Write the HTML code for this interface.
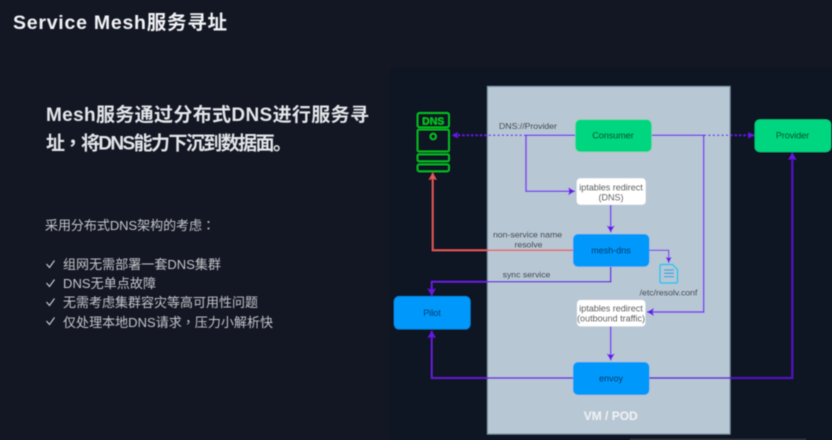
<!DOCTYPE html>
<html><head><meta charset="utf-8"><style>
html,body{margin:0;padding:0;background:#131724;width:832px;height:440px;overflow:hidden}
svg{position:absolute;left:0;top:0;display:block}
text{font-family:"Liberation Sans","Noto Sans CJK SC",sans-serif}
.tc{font-family:"Noto Sans CJK TC",sans-serif}
</style></head><body>
<svg width="832" height="440" viewBox="0 0 832 440" xmlns="http://www.w3.org/2000/svg">
<defs>
<filter id="b" x="-5%" y="-5%" width="110%" height="110%"><feGaussianBlur stdDeviation="0.4"/></filter>
<marker id="ap" markerUnits="userSpaceOnUse" markerWidth="10" markerHeight="10" refX="7" refY="4" orient="auto"><path d="M0 0L7 4L0 8L1.5 4Z" fill="#6a12ea"/></marker>
<marker id="aps" markerUnits="userSpaceOnUse" markerWidth="8" markerHeight="8" refX="6" refY="3" orient="auto"><path d="M0 0L6 3L0 6L1 3Z" fill="#6a12ea"/></marker>
<marker id="ar" markerUnits="userSpaceOnUse" markerWidth="10" markerHeight="10" refX="7" refY="4" orient="auto"><path d="M0 0L7 4L0 8L1.5 4Z" fill="#e45b5b"/></marker>
</defs>
<rect width="832" height="440" fill="#131724"/>
<g filter="url(#b)">
<rect x="390" y="68" width="442" height="372" fill="#0f1422"/>
<rect x="487.5" y="86.5" width="242.5" height="347.5" fill="#b8c7d4" stroke="#71889c" stroke-width="1"/>

<!-- connectors -->
<g fill="none" stroke-width="1.5">
<path d="M526 135.3H452" stroke="#6a12ea" stroke-dasharray="2 2.4" marker-end="url(#aps)"/>
<path d="M704 135.3H754" stroke="#6a12ea" stroke-dasharray="2 2.4" marker-end="url(#aps)"/>
<path d="M575 135.3H526V191.3H575" stroke="#7a36f0" marker-end="url(#ap)"/>
<path d="M652 135.3H703.7V312H647" stroke="#7a36f0" marker-end="url(#ap)"/>
<path d="M610.7 205V232.5" stroke="#7a36f0" marker-end="url(#ap)"/>
<path d="M573 250.3H432.7V173" stroke="#e45b5b" marker-end="url(#ar)"/>
<path d="M649 250.3H668.7V263" stroke="#7a36f0" stroke-width="1.2" marker-end="url(#aps)"/>
<path d="M610.7 267V281.7H431.7V295.5" stroke="#6a1fe0" marker-end="url(#ap)"/>
<path d="M610.7 326V360.5" stroke="#7a36f0" marker-end="url(#ap)"/>
<path d="M573 378H431.7V331" stroke="#6a1fe0" marker-end="url(#ap)"/>
<path d="M649.5 378H792.3V153" stroke="#5f10d8" marker-end="url(#ap)"/>
</g>

<!-- nodes -->
<rect x="575.3" y="119.5" width="76.4" height="32.5" rx="5" fill="#00d67f"/>
<rect x="754.7" y="119.5" width="76.4" height="32.5" rx="5" fill="#00d67f"/>
<rect x="573" y="234" width="76.4" height="32.8" rx="5" fill="#0099fb"/>
<rect x="573" y="362" width="76.4" height="33" rx="5" fill="#0099fb"/>
<rect x="394" y="296.3" width="76.4" height="33" rx="5" fill="#0099fb"/>
<rect x="576.7" y="178.3" width="69" height="26.4" rx="3.5" fill="#ffffff"/>
<rect x="577" y="300" width="68.4" height="26.4" rx="3.5" fill="#ffffff"/>

<!-- DNS server icon -->
<g fill="none" stroke="#00d21e" stroke-width="1.4">
<rect x="417.5" y="113" width="31.5" height="14.3" rx="2"/>
<rect x="417.5" y="129.5" width="31.5" height="22" rx="1.5"/>
<rect x="417.5" y="154.3" width="31.5" height="7" rx="1.5"/>
<rect x="417.5" y="164.3" width="31.5" height="7" rx="2"/>
<circle cx="433.2" cy="136.5" r="2.8"/>
</g>
<text x="433.2" y="124.5" font-size="10.5" font-weight="bold" fill="#00d21e" text-anchor="middle">DNS</text>

<!-- doc icon -->
<path d="M661.5 264.5H672.5L677.5 269.5V281.5Q677.5 283 676 283H661.5Q660 283 660 281.5V266Q660 264.5 661.5 264.5Z" fill="none" stroke="#14c3f0" stroke-width="1.5"/>
<path d="M664 270H674M664 273.3H674M664 276.6H674" stroke="#14a8e0" stroke-width="1.3" fill="none"/>

<!-- labels -->
<g font-size="9" fill="#111418" text-anchor="middle">
<text x="613" y="138.7" fill="#00221a">Consumer</text>
<text x="792.5" y="138.7" fill="#00221a">Provider</text>
<text x="611" y="253.7" fill="#001a3c">mesh-dns</text>
<text x="611" y="381.7" fill="#001a3c">envoy</text>
<text x="432" y="316" fill="#001a3c">Pilot</text>
<text x="611" y="190.5">iptables redirect</text>
<text x="611" y="200.5">(DNS)</text>
<text x="611" y="311.5">iptables redirect</text>
<text x="611" y="321.5">(outbound traffic)</text>
<text x="528" y="129" font-size="8.7">DNS://Provider</text>
<text x="527.5" y="237.5" font-size="8.7">non-service name</text>
<text x="528.5" y="247.5" font-size="8.7">resolve</text>
<text x="526.5" y="277.5" font-size="8.7">sync service</text>
<text x="668.5" y="295.5" font-size="8.7">/etc/resolv.conf</text>
</g>
<text x="610.7" y="420" font-size="12" font-weight="bold" fill="#eef2f6" text-anchor="middle">VM / POD</text>
<rect x="630" y="439" width="176" height="1" fill="#3c424e"/>
</g>

<!-- left text -->
<g filter="url(#b)">
<text x="13" y="29" font-size="19.5" font-weight="bold" fill="#f2f3f5" textLength="214" lengthAdjust="spacing">Service Mesh服务寻址</text>
<text x="46" y="121" font-size="19" font-weight="bold" fill="#e4e6e9" textLength="323" lengthAdjust="spacing">Mesh服务通过分布式DNS进行服务寻</text>
<text x="46" y="149.5" font-size="19" font-weight="bold" fill="#e4e6e9" textLength="246" lengthAdjust="spacing">址<tspan class="tc">，</tspan>将DNS能力下沉到数据面。</text>
<g font-size="13" fill="#c4c6ca">
<text x="45" y="230" textLength="170" lengthAdjust="spacing">采用分布式DNS架构的考虑<tspan class="tc">：</tspan></text>
<text x="63" y="269" textLength="158" lengthAdjust="spacing">组网无需部署一套DNS集群</text>
<text x="63" y="288" textLength="93" lengthAdjust="spacing">DNS无单点故障</text>
<text x="63" y="307" textLength="195" lengthAdjust="spacing">无需考虑集群容灾等高可用性问题</text>
<text x="63" y="327" textLength="210" lengthAdjust="spacing">仅处理本地DNS请求<tspan class="tc">，</tspan>压力小解析快</text>
</g>
<g fill="none" stroke="#cfd1d4" stroke-width="1.1">
<path d="M46.5 264L49.5 267.5L54.5 260.5"/>
<path d="M46.5 283L49.5 286.5L54.5 279.5"/>
<path d="M46.5 302L49.5 305.5L54.5 298.5"/>
<path d="M46.5 321L49.5 324.5L54.5 317.5"/>
</g>
</g>
</svg>
</body></html>
